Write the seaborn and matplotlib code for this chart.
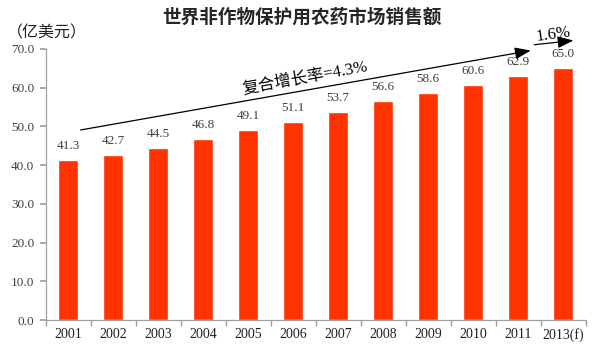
import matplotlib
matplotlib.use("Agg")
import matplotlib.pyplot as plt
import seaborn as sns
import numpy as np
import pandas as pd

years = ["2001", "2002", "2003", "2004", "2005", "2006", "2007", "2008", "2009", "2010", "2011", "2013(f)"]
values = [41.3, 42.7, 44.5, 46.8, 49.1, 51.1, 53.7, 56.6, 58.6, 60.6, 62.9, 65.0]
yticks = [0, 10, 20, 30, 40, 50, 60, 70]
title = "世界非作物保护用农药市场销售额"
unit = "（亿美元）"
cagr_main = "复合增长率=4.3%"
cagr_f = "1.6%"

sns.set_theme(style="white")
plt.rcParams['font.family'] = ['Liberation Serif', 'Noto Sans CJK SC', 'DejaVu Sans']

df = pd.DataFrame({"year": years, "value": values})
n = len(years)

fig = plt.figure(figsize=(6, 3.45), dpi=100)
ax = fig.add_axes([0.076, 0.072, 0.9, 0.786])
sns.barplot(data=df, x="year", y="value", color="#FF3300", saturation=1, width=0.46, ax=ax)

ax.set_ylim(0, 70)
ax.set_xlim(-0.5, n - 0.5)
ax.set_yticks(yticks)
ax.set_yticklabels([f"{v:.1f}" for v in yticks], fontsize=9.5, color="#404040")
ax.set_xticks(range(n))
ax.set_xticklabels(years, fontsize=10, color="#202020")
ax.set_xticks(np.arange(-0.5, n, 1.0), minor=True)
ax.tick_params(axis="x", which="major", length=0, pad=6)
ax.tick_params(axis="x", which="minor", length=4, color="#a0a0a0", direction="out", bottom=True)
ax.tick_params(axis="y", length=4, color="#a0a0a0", direction="out", left=True, pad=4)
ax.set_xlabel("")
ax.set_ylabel("")
for s in ["top", "right"]:
    ax.spines[s].set_visible(False)
for s in ["left", "bottom"]:
    ax.spines[s].set_color("#a0a0a0")
    ax.spines[s].set_linewidth(0.9)

for i, v in enumerate(values):
    ax.text(i, v + 2.1, f"{v:.1f}", ha="center", va="bottom", fontsize=9.5, color="#404040")

# arrows
ax.annotate("", xy=(10.28, 69.6), xytext=(0.28, 49.1), xycoords="data",
            arrowprops=dict(arrowstyle="-|>,head_length=0.8,head_width=0.3", color="black", lw=0.9,
                            shrinkA=0, shrinkB=0),
            annotation_clip=False)
ax.annotate("", xy=(11.23, 72.2), xytext=(10.36, 71.1), xycoords="data",
            arrowprops=dict(arrowstyle="-|>,head_length=0.8,head_width=0.3", color="black", lw=0.9,
                            shrinkA=0, shrinkB=0),
            annotation_clip=False)
ax.text(5.27, 62.5, cagr_main, rotation=10.5, ha="center", va="center", fontsize=12, color="black",
        family=['Liberation Serif', 'Noto Sans CJK SC'], rotation_mode="anchor")
ax.text(10.78, 73.6, cagr_f, rotation=8, ha="center", va="center", fontsize=12, color="black",
        family=['Liberation Serif', 'Noto Sans CJK SC'], rotation_mode="anchor")

fig.text(0.503, 0.95, title, ha="center", va="center", fontsize=13.4, fontweight="bold",
         family=['Noto Sans CJK SC', 'DejaVu Sans'])
fig.text(0.012, 0.904, unit, ha="left", va="center", fontsize=11.5, color="#202020",
         family=['Noto Sans CJK SC', 'DejaVu Sans'])

fig.savefig("out.png", dpi=100)
